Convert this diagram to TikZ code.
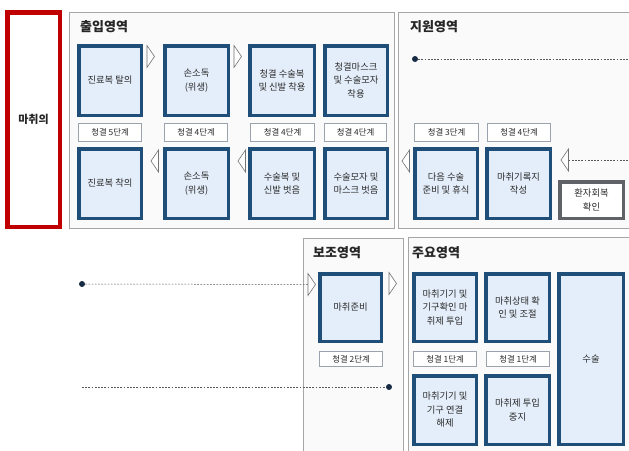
\documentclass[tikz,border=0pt]{standalone}
\usepackage{fontspec}
\newfontfamily\kr{Noto Sans CJK KR}
\definecolor{bxblue}{HTML}{1F4E79}
\definecolor{bxfill}{HTML}{E4EEFA}
\definecolor{panelline}{HTML}{A6A6A6}
\definecolor{panelfill}{HTML}{FAFAFA}
\definecolor{lblline}{HTML}{9AA3AD}
\definecolor{txt}{HTML}{2A2A2A}
\definecolor{redline}{HTML}{C00000}
\definecolor{grayline}{HTML}{5F6368}
\definecolor{dotc}{HTML}{172B45}
\tikzset{
  stg/.style={draw=bxblue, line width=3.5pt, fill=bxfill, inner sep=0pt, align=center,
    font=\kr\fontsize{9.3}{13.5}\selectfont, text=txt},
  rec/.style={stg, draw=grayline, fill=white},
  lbl/.style={draw=lblline, line width=0.8pt, fill=white, inner sep=0pt,
    font=\kr\fontsize{8.4}{10}\selectfont, text=txt},
  panel/.style={draw=panelline, line width=1pt, fill=panelfill},
  ttl/.style={font=\kr\bfseries\fontsize{13}{15}\selectfont, anchor=west, text=black!85, inner sep=0pt},
  tri/.style={draw=black!55, line width=0.6pt, fill=white},
  dashln/.style={draw=black!65, line width=0.5pt, dash pattern=on 1.8pt off 1.4pt},
  dot/.style={circle, fill=dotc, inner sep=0pt, minimum size=6pt}
}
\newcommand{\stgbox}[7][stg]{\node[#1, minimum width={#5-#3-3.5}, minimum height={#6-#4-3.5}] (#2) at ({(#3+#5)/2},{(#4+#6)/2}) {#7};}
\newcommand{\lblbox}[6]{\node[lbl, minimum width={#5-#3-0.8}, minimum height={#6-#4-0.8}] (#2) at ({(#3+#5)/2},{(#4+#6)/2}) {#1};}
\newcommand{\rtri}[3]{\coordinate (#1) at (#2,#3); \draw[tri] (#2,#3-11) -- (#2+7.5,#3) -- (#2,#3+11) -- cycle;}
\newcommand{\ltri}[3]{\coordinate (#1) at (#2+7.5,#3); \draw[tri] (#2+7.5,#3-11) -- (#2,#3) -- (#2+7.5,#3+11) -- cycle;}
\begin{document}
\begin{tikzpicture}[x=1pt,y=-1pt]
\useasboundingbox (0,0) rectangle (629,450);
\clip (0,0) rectangle (629,450);
% doctor
\node[draw=redline, line width=4.5pt, fill=white, minimum width=52.5pt, minimum height=214.5pt,
  font=\kr\bfseries\fontsize{11}{12}\selectfont, text=black!85] (doc) at (33.5,119.5) {마취의};
% panels
\draw[panel] (69,12) rectangle (394,228);
\draw[panel] (398,12) rectangle (640,228);
\draw[panel] (303,238) rectangle (403,460);
\draw[panel] (408,237) rectangle (640,460);
\node[ttl] (t1) at (80,27) {출입영역};
\node[ttl] (t2) at (410,27) {지원영역};
\node[ttl] (t3) at (313,253) {보조영역};
\node[ttl] (t4) at (412,253) {주요영역};
% entry area row 1
\stgbox{a1}{77}{44}{143}{117}{진료복 탈의}
\stgbox{a2}{163}{44}{230}{117}{손소독\\(위생)}
\stgbox{a3}{248}{44}{316}{117}{청결 수술복\\및 신발 착용}
\stgbox{a4}{323}{44}{389}{117}{청결마스크\\및 수술모자\\착용}
\lblbox{청결 5단계}{l1}{78}{123}{142}{142}
\lblbox{청결 4단계}{l2}{164}{123}{228}{142}
\lblbox{청결 4단계}{l3}{250}{123}{315}{142}
\lblbox{청결 4단계}{l4}{324}{123}{387}{142}
\stgbox{b1}{77}{147}{143}{220}{진료복 착의}
\stgbox{b2}{163}{147}{230}{220}{손소독\\(위생)}
\stgbox{b3}{248}{147}{316}{220}{수술복 및\\신발 벗음}
\stgbox{b4}{323}{147}{389}{220}{수술모자 및\\마스크 벗음}
\rtri{ta1}{147}{56.5}
\rtri{ta2}{234}{56.5}
\ltri{tb1}{151}{161}
\ltri{tb2}{238}{161}
% support area
\node[dot] (d1) at (415,59) {};
\coordinate (e1) at (640,59);
\draw[dashln] (d1) -- (e1);
\lblbox{청결 3단계}{l5}{414}{123}{479}{142}
\lblbox{청결 4단계}{l6}{487}{123}{551}{142}
\stgbox{c1}{413}{147}{479}{220}{다음 수술\\준비 및 휴식}
\stgbox{c2}{485}{147}{552}{220}{마취기록지\\작성}
\stgbox[rec]{c3}{558}{180}{625}{220}{환자회복\\확인}
\ltri{tc1}{402}{161}
\ltri{tc2}{561}{160}
\coordinate (e2) at (640,160);
\draw[dashln] (tc2) -- (e2);
% auxiliary area
\node[dot] (d2) at (82,284) {};
\rtri{td1}{308}{284.5}
\draw[dashln] (d2) -- (td1);
\stgbox{p1}{318}{272}{383}{343}{마취준비}
\lblbox{청결 2단계}{l7}{319}{351}{383}{367}
\rtri{td2}{389}{283.5}
\coordinate (s3) at (82,387);
\node[dot] (d3) at (389,387) {};
\draw[dashln] (s3) -- (d3);
% main area
\stgbox{m1}{412}{272}{478}{343}{마취기기 및\\기구확인 마\\취제 투입}
\stgbox{m2}{484}{272}{551}{343}{마취상태 확\\인 및 조절}
\stgbox{m3}{557}{272}{625}{446}{수술}
\lblbox{청결 1단계}{l8}{413}{351}{477}{367}
\lblbox{청결 1단계}{l9}{486}{351}{550}{367}
\stgbox{n1}{412}{374}{478}{446}{마취기기 및\\기구 연결\\해제}
\stgbox{n2}{484}{374}{551}{446}{마취제 투입\\중지}
\end{tikzpicture}
\end{document}
